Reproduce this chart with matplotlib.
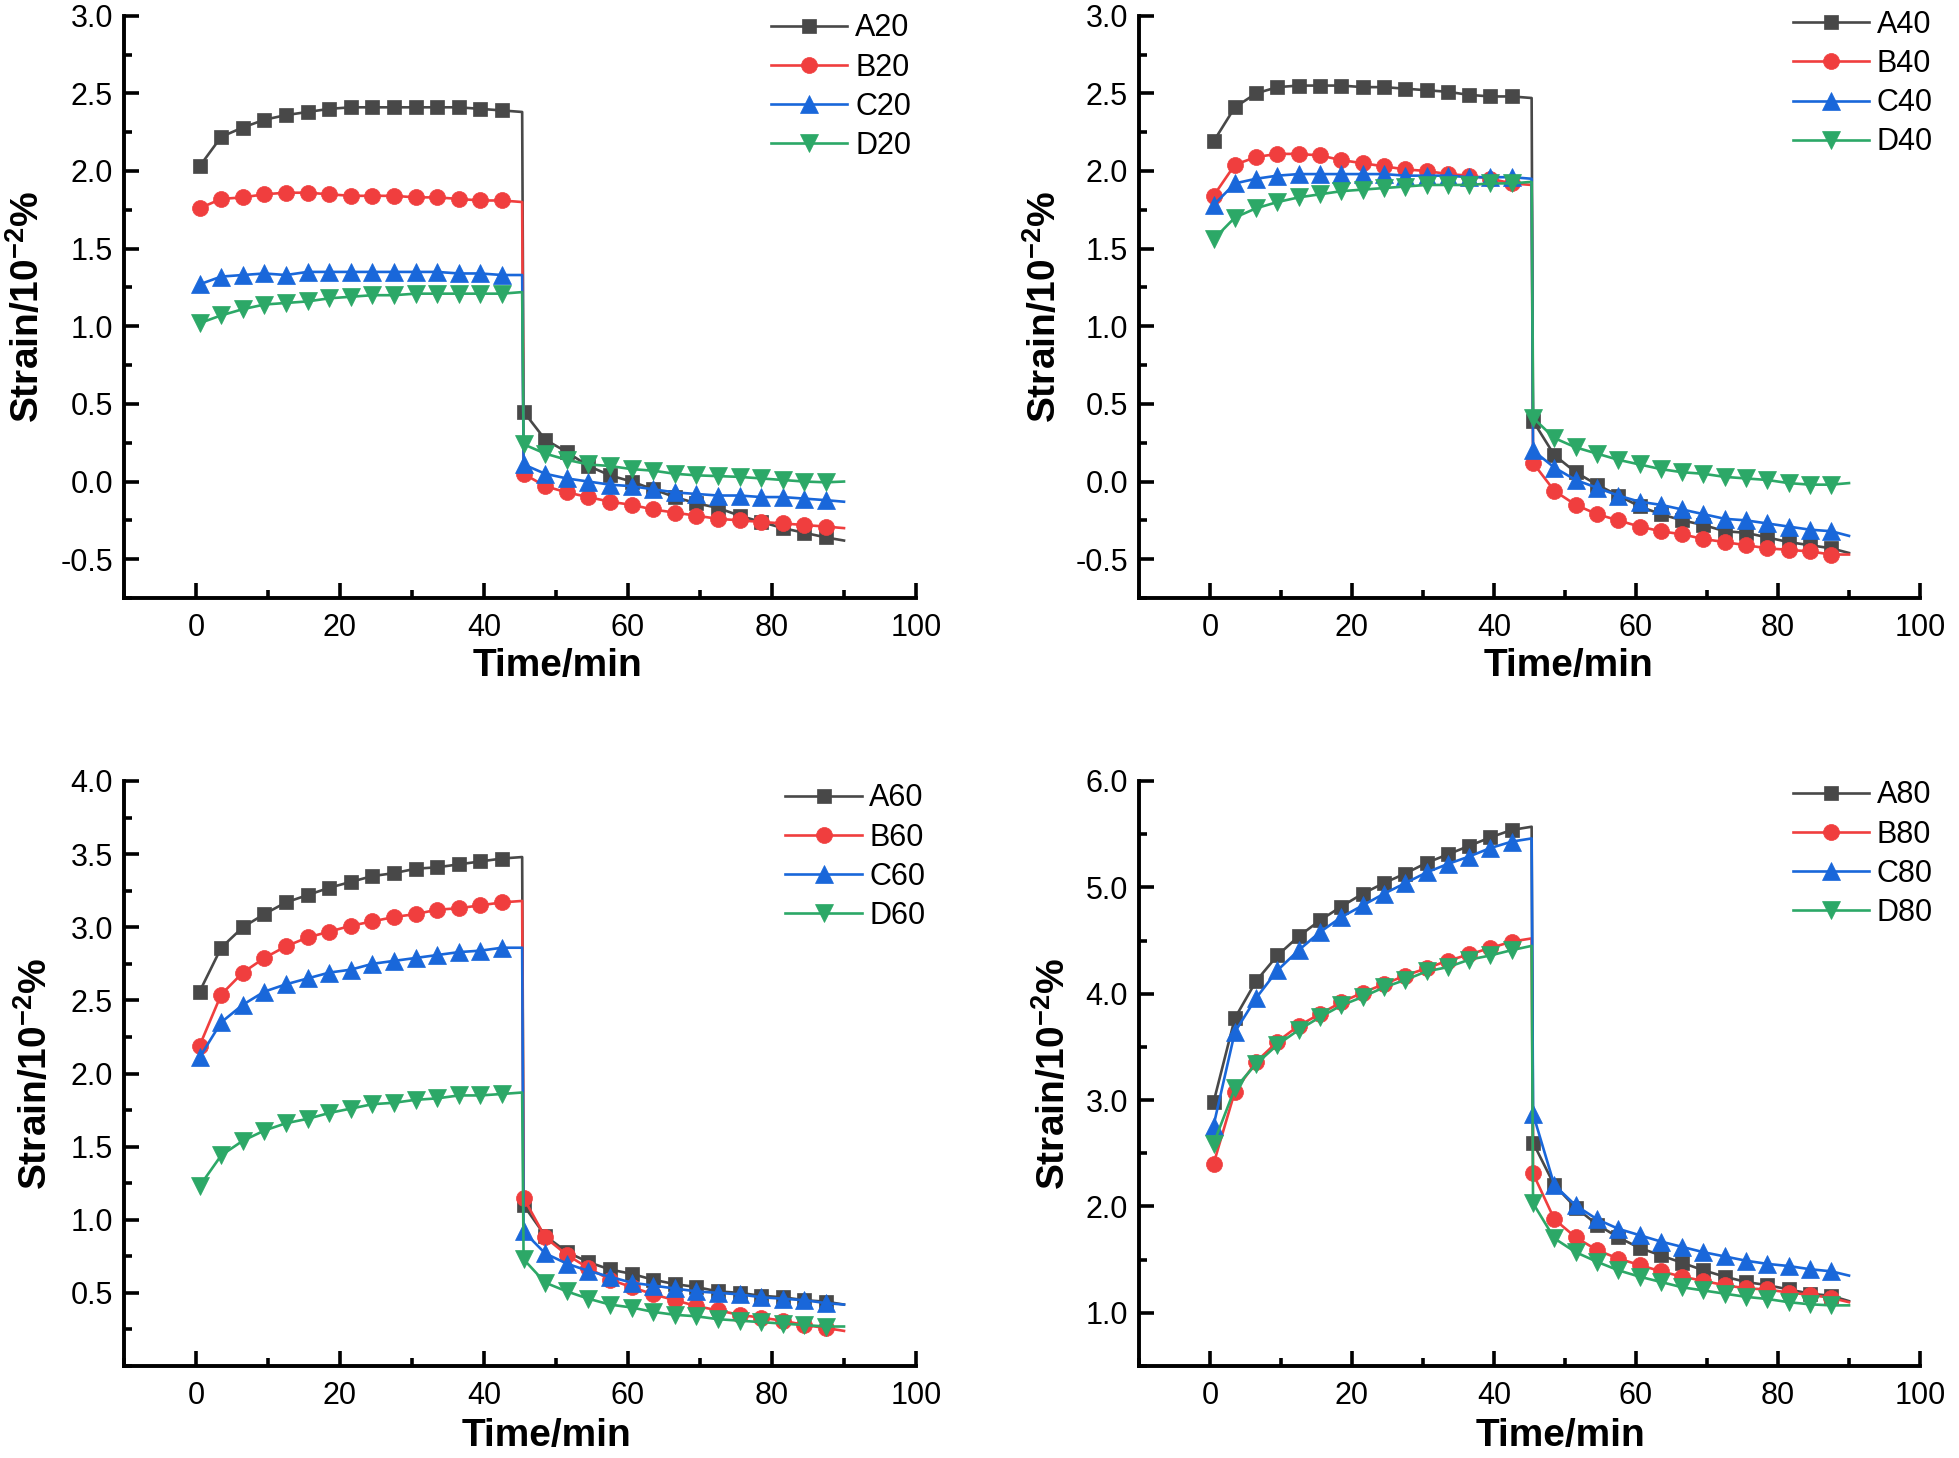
import matplotlib
matplotlib.use("Agg")
import matplotlib.pyplot as plt
from matplotlib.ticker import MultipleLocator, FixedLocator, FormatStrFormatter

plt.rcParams['font.family'] = ['Liberation Sans', 'DejaVu Sans']
plt.rcParams['axes.unicode_minus'] = False
plt.rcParams['mathtext.fontset'] = 'custom'
plt.rcParams['mathtext.rm'] = 'Liberation Sans'
plt.rcParams['mathtext.bf'] = 'Liberation Sans:bold'

# time axis: 15 loading marker times, end of loading, 15 unloading marker times, end
time = [0.5, 3.5, 6.5, 9.5, 12.5, 15.5, 18.5, 21.5, 24.5, 27.5, 30.5, 33.5, 36.5, 39.5, 42.5, 45.3,
        45.5, 48.5, 51.5, 54.5, 57.5, 60.5, 63.5, 66.5, 69.5, 72.5, 75.5, 78.5, 81.5, 84.5, 87.5, 90.0]

# ---- 20 ----
A20 = [2.03, 2.22, 2.28, 2.33, 2.36, 2.38, 2.40, 2.41, 2.41, 2.41, 2.41, 2.41, 2.41, 2.40, 2.39, 2.38,
       0.45, 0.27, 0.19, 0.10, 0.04, 0.00, -0.05, -0.10, -0.14, -0.17, -0.22, -0.26, -0.30, -0.33, -0.36, -0.38]
B20 = [1.76, 1.82, 1.83, 1.85, 1.86, 1.86, 1.85, 1.84, 1.84, 1.84, 1.83, 1.83, 1.82, 1.81, 1.81, 1.80,
       0.05, -0.03, -0.07, -0.10, -0.13, -0.15, -0.18, -0.20, -0.22, -0.24, -0.25, -0.26, -0.27, -0.28, -0.29, -0.30]
C20 = [1.27, 1.32, 1.33, 1.34, 1.33, 1.35, 1.35, 1.35, 1.35, 1.35, 1.35, 1.35, 1.34, 1.34, 1.33, 1.33,
       0.11, 0.05, 0.02, 0.00, -0.02, -0.03, -0.05, -0.07, -0.08, -0.09, -0.09, -0.10, -0.10, -0.11, -0.12, -0.13]
D20 = [1.02, 1.07, 1.11, 1.14, 1.15, 1.16, 1.18, 1.19, 1.20, 1.20, 1.21, 1.21, 1.21, 1.21, 1.21, 1.22,
       0.24, 0.18, 0.14, 0.11, 0.10, 0.08, 0.07, 0.05, 0.04, 0.035, 0.03, 0.02, 0.01, 0.00, -0.005, 0.00]

# ---- 40 ----
A40 = [2.19, 2.41, 2.50, 2.54, 2.55, 2.55, 2.55, 2.54, 2.54, 2.53, 2.52, 2.51, 2.49, 2.48, 2.48, 2.47,
       0.39, 0.17, 0.06, -0.02, -0.09, -0.16, -0.21, -0.25, -0.28, -0.32, -0.33, -0.36, -0.39, -0.41, -0.43, -0.46]
B40 = [1.84, 2.04, 2.09, 2.11, 2.11, 2.10, 2.07, 2.05, 2.03, 2.01, 2.00, 1.98, 1.97, 1.95, 1.92, 1.91,
       0.12, -0.06, -0.15, -0.21, -0.25, -0.29, -0.32, -0.34, -0.37, -0.39, -0.41, -0.43, -0.44, -0.45, -0.47, -0.47]
C40 = [1.78, 1.92, 1.95, 1.97, 1.98, 1.98, 1.98, 1.98, 1.98, 1.97, 1.97, 1.97, 1.96, 1.96, 1.96, 1.95,
       0.20, 0.09, 0.01, -0.04, -0.09, -0.13, -0.15, -0.18, -0.21, -0.24, -0.25, -0.27, -0.29, -0.31, -0.32, -0.35]
D40 = [1.56, 1.70, 1.76, 1.80, 1.83, 1.85, 1.87, 1.88, 1.89, 1.90, 1.91, 1.91, 1.91, 1.92, 1.92, 1.93,
       0.41, 0.28, 0.22, 0.18, 0.14, 0.11, 0.08, 0.06, 0.05, 0.03, 0.02, 0.01, -0.01, -0.02, -0.02, -0.01]

# ---- 60 ----
A60 = [2.56, 2.86, 3.00, 3.09, 3.17, 3.22, 3.27, 3.31, 3.35, 3.37, 3.40, 3.41, 3.43, 3.45, 3.47, 3.48,
       1.10, 0.89, 0.78, 0.71, 0.66, 0.63, 0.59, 0.56, 0.54, 0.51, 0.50, 0.48, 0.47, 0.45, 0.44, 0.42]
B60 = [2.19, 2.54, 2.69, 2.79, 2.87, 2.93, 2.97, 3.01, 3.04, 3.07, 3.09, 3.12, 3.13, 3.15, 3.17, 3.18,
       1.15, 0.88, 0.76, 0.67, 0.59, 0.54, 0.49, 0.45, 0.41, 0.38, 0.35, 0.33, 0.31, 0.28, 0.26, 0.24]
C60 = [2.11, 2.35, 2.47, 2.56, 2.61, 2.65, 2.69, 2.71, 2.75, 2.77, 2.79, 2.81, 2.83, 2.84, 2.86, 2.86,
       0.92, 0.77, 0.70, 0.65, 0.61, 0.57, 0.55, 0.53, 0.51, 0.50, 0.49, 0.47, 0.46, 0.45, 0.43, 0.42]
D60 = [1.23, 1.44, 1.54, 1.61, 1.66, 1.69, 1.73, 1.76, 1.79, 1.80, 1.82, 1.83, 1.85, 1.85, 1.86, 1.87,
       0.73, 0.57, 0.51, 0.46, 0.42, 0.40, 0.37, 0.35, 0.34, 0.32, 0.31, 0.30, 0.29, 0.28, 0.27, 0.27]

# ---- 80 ----
A80 = [2.98, 3.77, 4.12, 4.36, 4.54, 4.69, 4.82, 4.94, 5.04, 5.13, 5.23, 5.31, 5.39, 5.47, 5.54, 5.57,
       2.60, 2.20, 1.99, 1.83, 1.71, 1.61, 1.54, 1.47, 1.40, 1.34, 1.29, 1.26, 1.22, 1.18, 1.16, 1.11]
B80 = [2.40, 3.08, 3.36, 3.55, 3.70, 3.81, 3.92, 4.01, 4.09, 4.17, 4.24, 4.31, 4.37, 4.43, 4.49, 4.52,
       2.31, 1.88, 1.71, 1.59, 1.51, 1.45, 1.39, 1.34, 1.30, 1.26, 1.23, 1.22, 1.19, 1.17, 1.14, 1.10]
C80 = [2.76, 3.64, 3.96, 4.22, 4.41, 4.58, 4.72, 4.83, 4.94, 5.04, 5.14, 5.22, 5.29, 5.37, 5.43, 5.46,
       2.87, 2.20, 2.01, 1.88, 1.79, 1.73, 1.67, 1.62, 1.57, 1.53, 1.49, 1.46, 1.44, 1.41, 1.39, 1.35]
D80 = [2.59, 3.11, 3.34, 3.52, 3.66, 3.78, 3.89, 3.97, 4.06, 4.13, 4.21, 4.25, 4.32, 4.36, 4.41, 4.45,
       2.03, 1.70, 1.57, 1.48, 1.40, 1.34, 1.29, 1.24, 1.21, 1.18, 1.15, 1.13, 1.10, 1.08, 1.07, 1.07]

panel_series = [
    (['A20', 'B20', 'C20', 'D20'], [A20, B20, C20, D20]),
    (['A40', 'B40', 'C40', 'D40'], [A40, B40, C40, D40]),
    (['A60', 'B60', 'C60', 'D60'], [A60, B60, C60, D60]),
    (['A80', 'B80', 'C80', 'D80'], [A80, B80, C80, D80]),
]
x_ticks = [0, 20, 40, 60, 80, 100]
y_ticks = [
    [-0.5, 0.0, 0.5, 1.0, 1.5, 2.0, 2.5, 3.0],
    [-0.5, 0.0, 0.5, 1.0, 1.5, 2.0, 2.5, 3.0],
    [0.5, 1.0, 1.5, 2.0, 2.5, 3.0, 3.5, 4.0],
    [1.0, 2.0, 3.0, 4.0, 5.0, 6.0],
]
y_limits = [(-0.75, 3.0), (-0.75, 3.0), (0.0, 4.0), (0.5, 6.0)]
y_minor = [0.25, 0.25, 0.25, 0.5]

colors = ['#484848', '#F03E3E', '#1967DA', '#2CA867']
markers = ['s', 'o', '^', 'v']
msizes = [10.5, 11.5, 12.5, 12.5]

W, H = 1959, 1458
fig = plt.figure(figsize=(W / 100, H / 100), dpi=100)
rects = [
    [124 / W, 1 - 598 / H, 792 / W, 582.3 / H],
    [1139 / W, 1 - 598 / H, 781 / W, 582.3 / H],
    [124 / W, 1 - 1366 / H, 792 / W, 585 / H],
    [1139 / W, 1 - 1366 / H, 781 / W, 585 / H],
]
xlabel_pos = [(0.547, -0.117), (0.55, -0.117), (0.533, -0.119), (0.54, -0.119)]
ylabel_x = [-0.122, -0.121, -0.112, -0.110]
legend_anchor = [(0.817, 1.004), (0.837, 1.010), (0.835, 0.996), (0.837, 1.001)]

mark_idx = list(range(0, 15)) + list(range(16, 31))

for p in range(4):
    ax = fig.add_axes(rects[p])
    names, series = panel_series[p]
    for k in range(4):
        ax.plot(time, series[k], color=colors[k], lw=1.9, marker=markers[k], ms=msizes[k],
                mfc=colors[k], mec=colors[k], mew=0.5, markevery=mark_idx, label=names[k])
    ax.set_xlim(-10, 100)
    ax.set_ylim(*y_limits[p])
    ax.xaxis.set_major_locator(FixedLocator(x_ticks))
    ax.xaxis.set_minor_locator(MultipleLocator(10))
    ax.yaxis.set_major_locator(FixedLocator(y_ticks[p]))
    ax.yaxis.set_minor_locator(MultipleLocator(y_minor[p]))
    ax.yaxis.set_major_formatter(FormatStrFormatter('%.1f'))
    for s in ['top', 'right']:
        ax.spines[s].set_visible(False)
    for s in ['left', 'bottom']:
        ax.spines[s].set_linewidth(2.8)
    ax.tick_params(which='both', direction='in', top=False, right=False, width=2.6)
    ax.tick_params(which='major', length=11, labelsize=22)
    ax.tick_params(which='minor', length=5.5)
    ax.tick_params(axis='x', which='major', pad=11)
    ax.tick_params(axis='y', which='major', pad=8)
    ax.set_xlabel('Time/min', fontsize=28, fontweight='bold')
    ax.xaxis.set_label_coords(*xlabel_pos[p])
    ax.xaxis.label.set_verticalalignment('center')
    ax.set_ylabel(r'Strain/10$^{\mathbf{-2}}$%', fontsize=28, fontweight='bold')
    ax.yaxis.set_label_coords(ylabel_x[p], 0.5)
    ax.yaxis.label.set_verticalalignment('center')
    ax.legend(loc='upper left', bbox_to_anchor=legend_anchor[p], frameon=False, fontsize=22,
              handlelength=2.5, handletextpad=0.25, labelspacing=0.3, borderpad=0,
              borderaxespad=0, numpoints=1)

fig.savefig('out.png', dpi=100)
